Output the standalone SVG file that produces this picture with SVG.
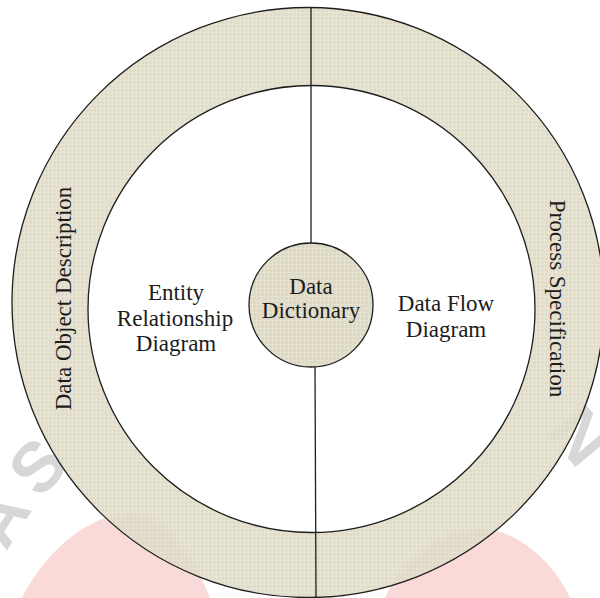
<svg xmlns="http://www.w3.org/2000/svg" width="600" height="598" viewBox="0 0 600 598">
  <style>
    .ring { stroke: #1e1e1e; stroke-width: 1.3; }
    .label { font-family: "Liberation Serif", "Times New Roman", serif; font-size: 23px; fill: #1c1c1c; text-anchor: middle; }
    .divider { stroke: #1e1e1e; stroke-width: 1.3; fill: none; }
    .mark { font-family: "Liberation Sans", Arial, sans-serif; font-weight: bold; font-size: 70px; fill: #7a7a7a; fill-opacity: 0.3; }
    .blush { fill: #E00000; fill-opacity: 0.15; }
  </style>
  <defs>
    <!-- fine woven texture of the tan fill -->
    <pattern id="tan" width="4" height="4" patternUnits="userSpaceOnUse">
      <rect width="4" height="4" fill="#DEDAC6"/>
      <rect x="0" y="0" width="4" height="1" fill="#E4E1CF"/>
      <rect x="0" y="0" width="1" height="4" fill="#E4E1CF"/>
      <rect x="2" y="2" width="1" height="1" fill="#D6D2BD"/>
    </pattern>
  </defs>

  <rect width="600" height="598" fill="#ffffff"/>

  <!-- faint background logo, partly showing through the band -->
  <g id="watermark">
    <text class="mark" transform="translate(6,552) rotate(-58)">A</text>
    <text class="mark" transform="translate(40,500) rotate(-48)">S</text>
    <text class="mark" transform="translate(546,432) rotate(50)">N</text>
    <path class="blush" d="M22,598 C40,560 80,518 128,512 C165,510 195,560 210,598 Z"/>
    <path class="blush" d="M385,598 C400,560 440,530 480,528 C520,530 555,565 570,598 Z"/>
  </g>

  <!-- outer band: Data Object Description / Process Specification -->
  <g id="outer-band">
    <ellipse class="ring" cx="308" cy="302.5" rx="296" ry="295" fill="url(#tan)" fill-opacity="0.9"/>
    <text class="label" transform="translate(71,298.5) rotate(-90)">Data Object Description</text>
    <text class="label" transform="translate(550,298.5) rotate(90)">Process Specification</text>
  </g>

  <!-- inner disc holding the two diagram areas -->
  <g id="inner-disc">
    <circle class="ring" cx="311.5" cy="309" r="223.5" fill="#ffffff"/>
  </g>

  <!-- dividing lines between the halves -->
  <g id="connectors">
    <line class="divider" x1="311" y1="8" x2="311" y2="243"/>
    <line class="divider" x1="315" y1="367" x2="316" y2="598"/>
  </g>

  <g id="erd">
    <text class="label" x="176" y="300">Entity</text>
    <text class="label" x="175" y="326">Relationship</text>
    <text class="label" x="176" y="351">Diagram</text>
  </g>

  <g id="dfd">
    <text class="label" x="446" y="311">Data Flow</text>
    <text class="label" x="446" y="337">Diagram</text>
  </g>

  <g id="data-dictionary">
    <circle class="ring" cx="311" cy="305" r="62" fill="url(#tan)"/>
    <text class="label" x="311" y="294">Data</text>
    <text class="label" x="311" y="318">Dictionary</text>
  </g>
</svg>
